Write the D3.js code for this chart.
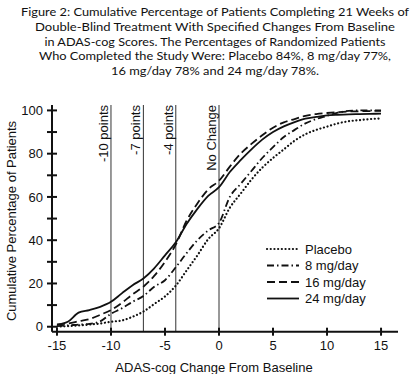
<!DOCTYPE html>
<html><head><meta charset="utf-8">
<script src="https://cdn.jsdelivr.net/npm/d3@7"></script>
<style>body{margin:0;background:#fff}</style>
</head><body>
<svg id="c" width="420" height="374"></svg>
<script>
const titleLines = [
  "Figure 2: Cumulative Percentage of Patients Completing 21 Weeks of",
  "Double-Blind Treatment With Specified Changes From Baseline",
  "in ADAS-cog Scores. The Percentages of Randomized Patients",
  "Who Completed the Study Were: Placebo 84%, 8 mg/day 77%,",
  "16 mg/day 78% and 24 mg/day 78%."
];
const titleWidths = [388, 360, 341, 352, 208];
const xValues = [-15,-14,-13,-12,-11,-10,-9,-8,-7,-6,-5,-4,-3,-2,-1,0,1,2,3,4,5,6,7,8,9,10,11,12,13,14,15];
const placebo = [0,0.3,0.6,1,1.5,2.3,2.9,4.6,7,10.5,14,19,26,33,40.5,45.5,55,61.5,68,73.5,78,82,86,89,91,92.5,94,95,95.5,96,96.3];
const mg8     = [0.3,0.6,1,1.3,2.5,6,8.5,11.5,14.2,18.5,21.5,27.5,34,40,44.5,48,60,66,72,78,83,87.7,91,94,96,97.5,99,99.8,100,100,100];
const mg16    = [1,1.5,2.5,3.5,5.5,7.7,11,15,18.5,23.5,30,38,49,57,63.5,67.5,74,80,84.5,88.5,92,94.5,96,97.5,98.3,98.8,99.2,99.5,99.6,99.7,99.8];
const mg24    = [1,2.3,6.5,7.7,9.2,11.5,15.4,19.2,22.3,27,33,39,47.5,54.5,60.5,64.5,71.5,77,82,86.5,90,92.6,94.6,96.2,97,97.7,98,98.2,98.3,98.4,98.5];
const seriesNames = ["Placebo","8 mg/day","16 mg/day","24 mg/day"];
const seriesData = [placebo, mg8, mg16, mg24];
const refLines = [-10,-7,-4,0];
const refLabels = ["-10 points","-7 points","-4 points","No Change"];
const xTicks = [-15,-10,-5,0,5,10,15];
const yTicks = [0,20,40,60,80,100];
const yMinor = [10,30,50,70,90];

const dashes = ["0.1,3.6", "7,3,1.5,3", "8,4", null];
const widths = [2.2, 1.8, 1.8, 1.8];

const svg = d3.select("#c");
const font = "'Liberation Sans', Arial, sans-serif";
const x = d3.scaleLinear().domain([-15.46, 16.57]).range([52, 398]);
const y = d3.scaleLinear().domain([-2.3, 102.5]).range([331.7, 105]);

// title
const tg = svg.append("g").attr("font-family","Lato, sans-serif").attr("font-size",12.2).attr("fill","#111");
titleLines.forEach((t,i)=>{
  tg.append("text").attr("x",215).attr("y",15.9+i*14.8).attr("text-anchor","middle")
    .attr("textLength",titleWidths[i]).attr("lengthAdjust","spacingAndGlyphs").text(t);
});

// reference lines
refLines.forEach((v,i)=>{
  svg.append("line").attr("x1",x(v)).attr("x2",x(v)).attr("y1",105).attr("y2",331.7)
    .attr("stroke","#333").attr("stroke-width",1);
  svg.append("text").attr("transform",`translate(${x(v)-3},105) rotate(-90)`)
    .attr("text-anchor","end").attr("font-family",font).attr("font-size",13).attr("fill","#111")
    .text(refLabels[i]);
});

// axes
const yAxis = svg.append("g").attr("transform",`translate(${x.range()[0]},0)`);
yAxis.append("line").attr("x1",0).attr("x2",0).attr("y1",105).attr("y2",331.7).attr("stroke","#111").attr("stroke-width",2);
yTicks.concat(yMinor).forEach(v=>{
  yAxis.append("line").attr("x1",-5).attr("x2",5).attr("y1",y(v)).attr("y2",y(v)).attr("stroke","#111").attr("stroke-width",2);
});
yTicks.forEach(v=>{
  yAxis.append("text").attr("x",-9).attr("y",y(v)).attr("dy","0.36em").attr("text-anchor","end")
    .attr("font-family",font).attr("font-size",13).attr("fill","#111").text(v);
});
const xAxis = svg.append("g").attr("transform",`translate(0,331.7)`);
xAxis.append("line").attr("x1",x.range()[0]).attr("x2",x.range()[1]).attr("y1",0).attr("y2",0).attr("stroke","#111").attr("stroke-width",2);
xTicks.forEach(v=>{
  xAxis.append("line").attr("x1",x(v)).attr("x2",x(v)).attr("y1",-4).attr("y2",4).attr("stroke","#111").attr("stroke-width",2);
  xAxis.append("text").attr("x",x(v)).attr("y",18).attr("text-anchor","middle")
    .attr("font-family",font).attr("font-size",13).attr("fill","#111").text(v);
});

// axis titles
svg.append("text").attr("transform","translate(15.5,221) rotate(-90)").attr("text-anchor","middle")
  .attr("font-family",font).attr("font-size",13).attr("fill","#111").text("Cumulative Percentage of Patients");
svg.append("text").attr("x",214).attr("y",371.5).attr("text-anchor","middle")
  .attr("font-family",font).attr("font-size",13).attr("fill","#111").text("ADAS-cog Change From Baseline");

// series
const line = d3.line().x((d,i)=>x(xValues[i])).y(d=>y(d)).curve(d3.curveMonotoneX);
seriesData.forEach((s,i)=>{
  const p = svg.append("path").datum(s).attr("d",line).attr("fill","none").attr("stroke","#111")
    .attr("stroke-width",widths[i]);
  if(dashes[i]) p.attr("stroke-dasharray",dashes[i]);
  if(i===0) p.attr("stroke-linecap","round");
});

// legend
const lg = svg.append("g");
seriesNames.forEach((n,i)=>{
  const yy = 249 + i*16.5;
  const l = lg.append("line").attr("x1",267).attr("x2",299).attr("y1",yy).attr("y2",yy)
    .attr("stroke","#111").attr("stroke-width",widths[i]);
  if(dashes[i]) l.attr("stroke-dasharray",dashes[i]);
  if(i===0) l.attr("stroke-linecap","round");
  lg.append("text").attr("x",305).attr("y",yy).attr("dy","0.36em").attr("font-family",font)
    .attr("font-size",13).attr("fill","#111").text(n);
});
</script>
</body></html>
